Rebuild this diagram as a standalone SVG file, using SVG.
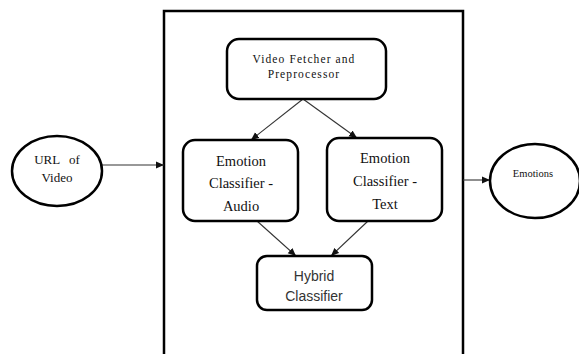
<svg xmlns="http://www.w3.org/2000/svg" width="579" height="354" viewBox="0 0 579 354">
<style>
.frame{fill:none;stroke:#000;stroke-width:2.5}
.node{fill:#fff;stroke:#000;stroke-width:2.5}
.serif{fill:#111;text-anchor:middle}
.sans{font-family:'Liberation Sans',Arial,sans-serif;fill:#333;text-anchor:middle;font-size:14px}
.conn{stroke:#333;stroke-width:1.1;fill:none;marker-end:url(#arr)}
</style>
<defs>
<marker id="arr" markerUnits="userSpaceOnUse" markerWidth="9" markerHeight="8" refX="8" refY="4" orient="auto">
<path d="M0,0.5 L8,4 L0,7.5 Z" fill="#111"/>
</marker>
</defs>
<rect width="579" height="354" fill="#fff"/>
<g id="system-box">
<rect class="frame" x="164" y="11" width="299" height="360"/>
</g>
<g id="connectors">
<line class="conn" x1="102" y1="165" x2="164" y2="165"/>
<line class="conn" x1="463" y1="180" x2="490" y2="180"/>
<line class="conn" x1="303" y1="99" x2="251" y2="140"/>
<line class="conn" x1="303" y1="99" x2="357" y2="138"/>
<line class="conn" x1="257" y1="221" x2="296" y2="256"/>
<line class="conn" x1="368" y1="221" x2="331" y2="256"/>
</g>
<g font-family="Liberation Serif, DejaVu Serif, Times New Roman, serif">
<g id="url-of-video">
<ellipse class="node" cx="57" cy="171" rx="45" ry="35"/>
<text class="serif" font-size="13" word-spacing="6" x="57" y="164">URL of</text>
<text class="serif" font-size="13" x="57" y="182">Video</text>
</g>
<g id="video-fetcher">
<rect class="node" x="227" y="39" width="159" height="60" rx="12"/>
<text class="serif" font-size="11.5" letter-spacing="1.1" x="304" y="63">Video Fetcher and</text>
<text class="serif" font-size="11.5" letter-spacing="1.1" x="304" y="78">Preprocessor</text>
</g>
<g id="emotion-audio">
<rect class="node" x="183" y="140" width="115" height="81" rx="12"/>
<text class="serif" font-size="14.5" x="241" y="166">Emotion</text>
<text class="serif" font-size="14.5" x="241" y="188">Classifier -</text>
<text class="serif" font-size="14.5" x="241" y="211">Audio</text>
</g>
<g id="emotion-text">
<rect class="node" x="327" y="138" width="115" height="83" rx="12"/>
<text class="serif" font-size="14.5" x="385" y="163">Emotion</text>
<text class="serif" font-size="14.5" x="385" y="186">Classifier -</text>
<text class="serif" font-size="14.5" x="385" y="209">Text</text>
</g>
<g id="emotions">
<ellipse class="node" cx="535" cy="181" rx="45" ry="37"/>
<text class="serif" font-size="10.5" x="533" y="177">Emotions</text>
</g>
</g>
<g id="hybrid-classifier">
<rect class="node" x="257" y="256" width="115" height="54" rx="10"/>
<text class="sans" x="314" y="281">Hybrid</text>
<text class="sans" x="314" y="301">Classifier</text>
</g>
</svg>
